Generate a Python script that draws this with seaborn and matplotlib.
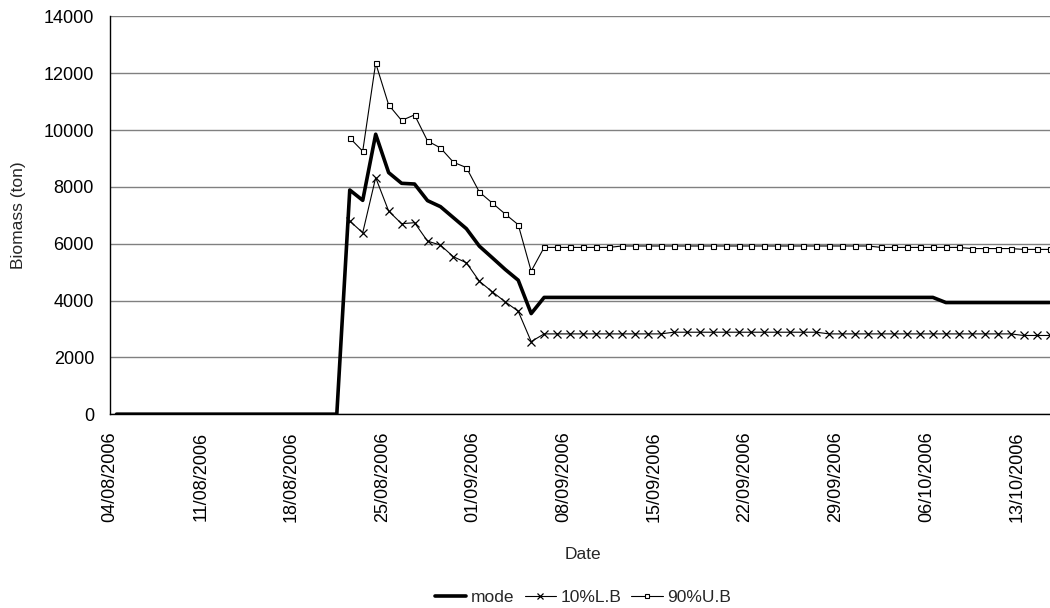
import numpy as np
import pandas as pd
import seaborn as sns
import matplotlib
matplotlib.use("Agg")
import matplotlib.pyplot as plt
import matplotlib.dates as mdates

# daily values, 04/08/2006 .. 15/10/2006
start_date = "2006-08-04"
end_date = "2006-10-15"

mode = [0, 0, 0, 0, 0, 0, 0, 0, 0, 0, 0, 0, 0, 0, 0, 0, 0, 0,
        7891, 7527, 9855, 8504, 8127, 8102, 7517, 7305, 6917, 6529,
        5915, 5506, 5093, 4716, 3541,
        4110, 4110, 4110, 4110, 4110, 4110, 4110, 4110, 4110, 4110,
        4110, 4110, 4110, 4110, 4110, 4110, 4110, 4110, 4110, 4110,
        4110, 4110, 4110, 4110, 4110, 4110, 4110, 4110, 4110, 4110, 4110,
        3930, 3930, 3930, 3930, 3930, 3930, 3930, 3930, 3930]

lower_10 = [None] * 18 + [
    6797, 6388, 8328, 7150, 6705, 6741, 6092, 5951, 5541, 5330,
    4681, 4307, 3954, 3623, 2555,
    2826, 2826, 2826, 2826, 2826, 2826, 2826, 2826, 2826, 2826,
    2885, 2885, 2885, 2885, 2885, 2885, 2885, 2885, 2885, 2885, 2885, 2885,
    2826, 2826, 2826, 2826, 2826, 2826, 2826, 2826, 2826, 2826,
    2826, 2826, 2826, 2826, 2826,
    2770, 2770, 2770]

upper_90 = [None] * 18 + [
    9725, 9256, 12360, 10889, 10339, 10536, 9619, 9372, 8868, 8681,
    7820, 7432, 7044, 6670, 5034,
    5870, 5870, 5870, 5870, 5870, 5870,
    5920, 5920, 5920, 5920, 5920, 5920, 5920, 5920, 5920, 5920,
    5920, 5920, 5920, 5920, 5920, 5920, 5920, 5920, 5920, 5920,
    5870, 5870, 5870, 5870, 5870, 5870, 5870,
    5830, 5830, 5830, 5830,
    5800, 5800, 5800]

series_names = ["mode", "10%L.B", "90%U.B"]
y_ticks = [0, 2000, 4000, 6000, 8000, 10000, 12000, 14000]

days = pd.date_range(start_date, end_date, freq="D")
# Excel date axis: points sit in the middle of each day
x_mid = days + pd.Timedelta(hours=12)

df = pd.DataFrame({
    "date": x_mid,
    "mode": np.array(mode, dtype=float),
    "lower": np.array(lower_10, dtype=float),
    "upper": np.array(upper_90, dtype=float),
})

sns.set_style("white")
plt.rcParams["font.family"] = ["Liberation Sans", "DejaVu Sans"]

fig = plt.figure(figsize=(10.5, 6.08), dpi=100)
ax = fig.add_axes([0.1048, 0.3188, 0.9009, 0.6541])

sns.lineplot(data=df, x="date", y="mode", ax=ax, color="black",
             linewidth=2.6, label=series_names[0], zorder=4)
sns.lineplot(data=df, x="date", y="lower", ax=ax, color="black",
             linewidth=0.8, marker="x", markersize=5.5, markeredgewidth=0.9,
             markeredgecolor="black", markerfacecolor="black",
             label=series_names[1], zorder=3)
sns.lineplot(data=df, x="date", y="upper", ax=ax, color="black",
             linewidth=0.8, marker="s", markersize=3.6, markeredgewidth=0.8,
             markerfacecolor="white", markeredgecolor="black",
             label=series_names[2], zorder=3)

ax.set_xlim(pd.Timestamp(start_date), pd.Timestamp(end_date) + pd.Timedelta(days=1))
ax.set_ylim(0, 14000)
ax.set_yticks(y_ticks)
ax.set_xticks(pd.date_range(start_date, "2006-10-13", freq="7D"))
ax.xaxis.set_major_formatter(mdates.DateFormatter("%d/%m/%Y"))
plt.setp(ax.get_xticklabels(), rotation=90)

ax.yaxis.grid(True, color="#808080", linewidth=1.0)
ax.xaxis.grid(False)
ax.set_axisbelow(True)
for side in ["top", "right"]:
    ax.spines[side].set_visible(False)
for side in ["left", "bottom"]:
    ax.spines[side].set_color("black")
    ax.spines[side].set_linewidth(1.0)

ax.tick_params(axis="both", direction="out", length=4.5, width=0.8,
               color="black", labelsize=13, labelcolor="black")
ax.tick_params(axis="x", pad=8)
ax.tick_params(axis="y", pad=7)

ax.set_xlabel("Date", fontsize=12.5, labelpad=18)
ax.set_ylabel("Biomass (ton)", fontsize=12.5, labelpad=13)

ax.legend(loc="center", bbox_to_anchor=(0.5, -0.46), ncol=3, frameon=False,
          fontsize=12.5, handlelength=1.8, handletextpad=0.25,
          columnspacing=0.6, markerscale=0.8)

fig.savefig("out.png", dpi=100)
